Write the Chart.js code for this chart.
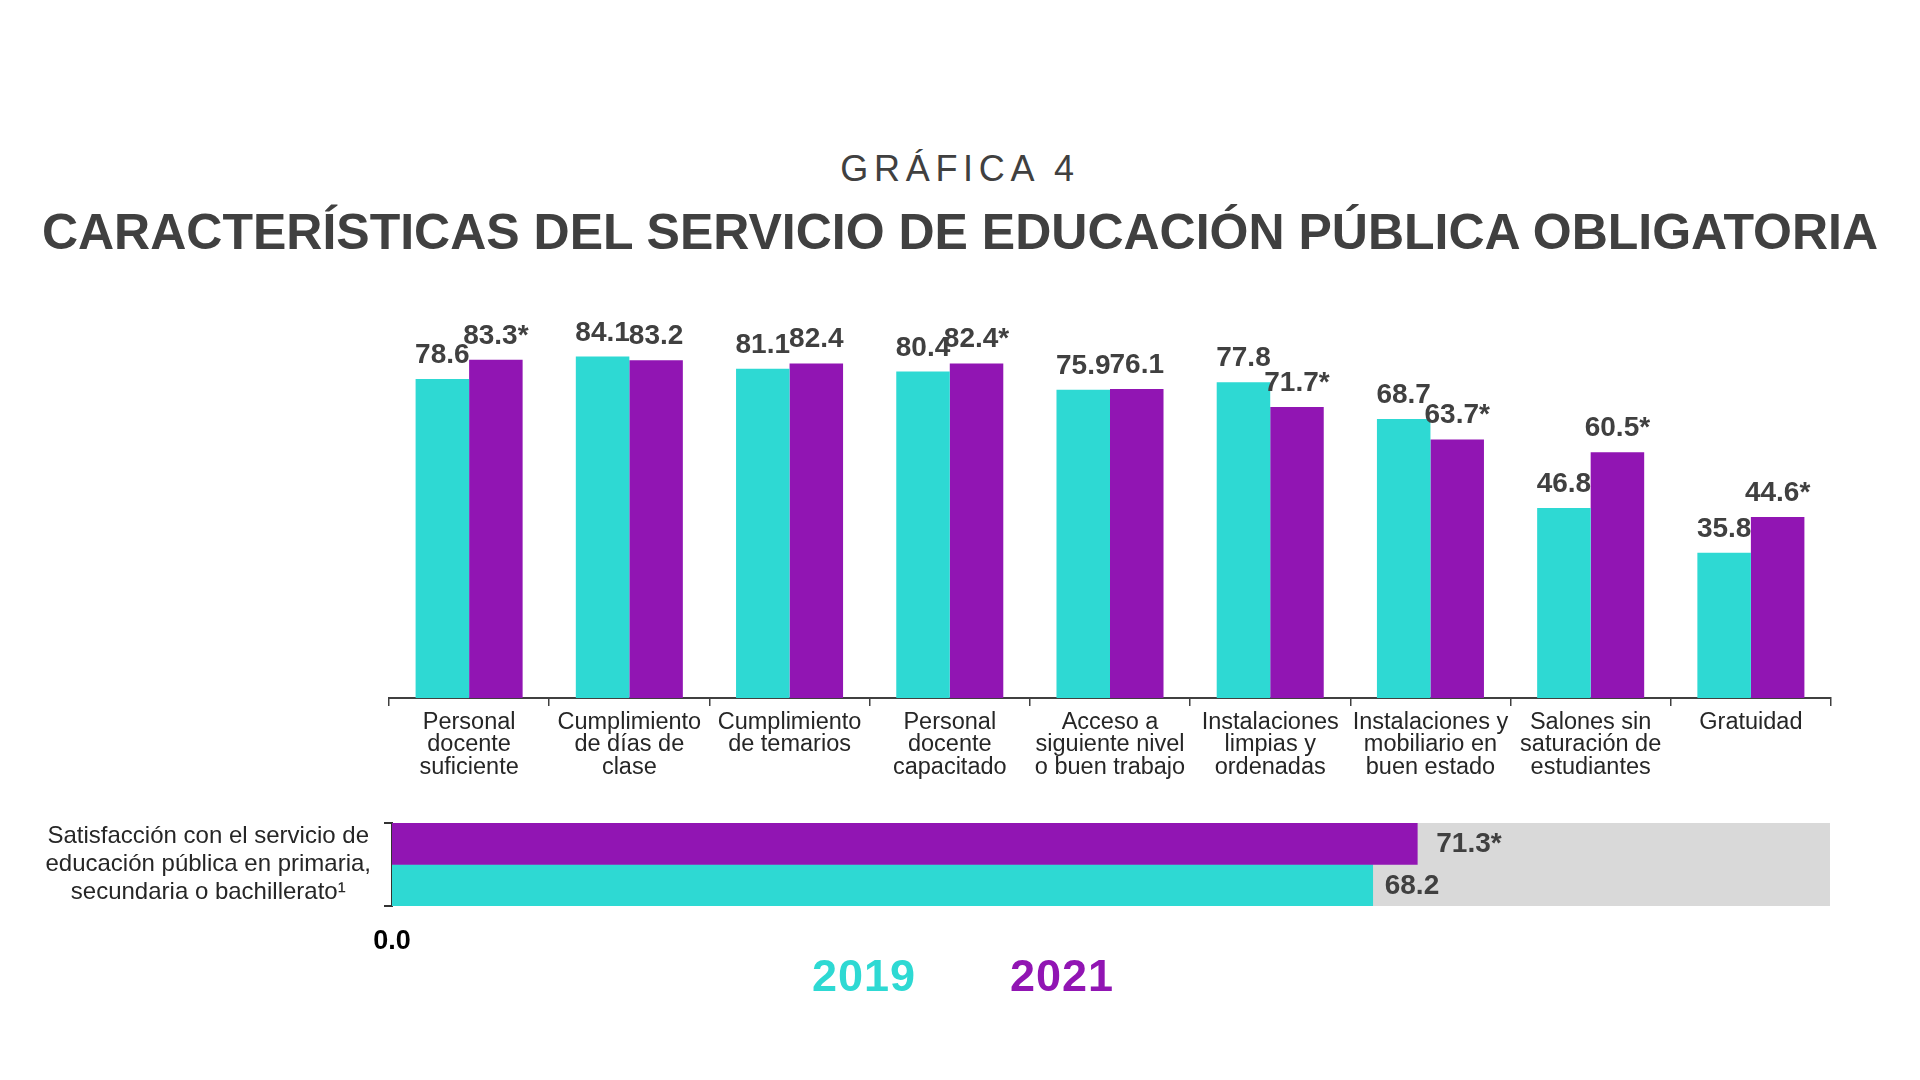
<!DOCTYPE html>
<html lang="es">
<head>
<meta charset="utf-8">
<title>Gráfica 4</title>
<script src="https://cdn.jsdelivr.net/npm/chart.js@4/dist/chart.umd.min.js"></script>
<style>
  html, body { margin: 0; padding: 0; background: #fff; }
  body { width: 1920px; height: 1080px; position: relative; overflow: hidden; font-family: "Liberation Sans", Arial, sans-serif; }
  .txt { position: absolute; white-space: nowrap; line-height: 1; }
  #kicker { left: 0; width: 1920px; text-align: center; top: 151px; font-size: 36px; color: #404040; letter-spacing: 5.7px; }
  #title { left: 0; width: 1920px; text-align: center; top: 207px; font-size: 50px; font-weight: bold; color: #404040; }
  .legend { top: 953px; font-size: 45px; font-weight: bold; transform: translateX(-50%); letter-spacing: 1px; }
  canvas { position: absolute; left: 0; top: 0; }
</style>
</head>
<body>
<div id="kicker" class="txt">GRÁFICA 4</div>
<div id="title" class="txt">CARACTERÍSTICAS DEL SERVICIO DE EDUCACIÓN PÚBLICA OBLIGATORIA</div>
<canvas id="barsChart" width="1920" height="1080"></canvas>
<canvas id="satChart" width="1920" height="1080"></canvas>
<div id="leg2019" class="txt legend" style="left:864px;color:#2ED9D3">2019</div>
<div id="leg2021" class="txt legend" style="left:1062px;color:#9115B3">2021</div>
<script>
const categories = [
  ['Personal', 'docente', 'suficiente'],
  ['Cumplimiento', 'de días de', 'clase'],
  ['Cumplimiento', 'de temarios'],
  ['Personal', 'docente', 'capacitado'],
  ['Acceso a', 'siguiente nivel', 'o buen trabajo'],
  ['Instalaciones', 'limpias y', 'ordenadas'],
  ['Instalaciones y', 'mobiliario en', 'buen estado'],
  ['Salones sin', 'saturación de', 'estudiantes'],
  ['Gratuidad'],
];
const values2019 = [78.6, 84.1, 81.1, 80.4, 75.9, 77.8, 68.7, 46.8, 35.8];
const values2021 = [83.3, 83.2, 82.4, 82.4, 76.1, 71.7, 63.7, 60.5, 44.6];
// asterisk = cambio estadisticamente significativo
const signif2021 = [true, false, false, true, false, true, true, true, true];

const satLabel = ['Satisfacción con el servicio de', 'educación pública en primaria,', 'secundaria o bachillerato¹'];
const sat2019 = [68.2];
const sat2021 = [71.3];
const satSignif2021 = [true];

const CYAN = '#2ED9D3';
const PURPLE = '#9115B3';
const DARK = '#404040';

function fmt(v, sig) {
  return v.toFixed(1) + (sig ? '*' : '');
}

// value labels above the vertical bars
const topLabels = {
  id: 'topLabels',
  afterDatasetsDraw(chart) {
    const ctx = chart.ctx;
    ctx.save();
    ctx.font = 'bold 28px "Liberation Sans", Arial, sans-serif';
    ctx.fillStyle = DARK;
    ctx.textAlign = 'center';
    ctx.textBaseline = 'alphabetic';
    chart.data.datasets.forEach((ds, i) => {
      chart.getDatasetMeta(i).data.forEach((bar, j) => {
        const sig = ds.signif ? ds.signif[j] : false;
        ctx.fillText(fmt(ds.data[j], sig), bar.x, bar.y - 16);
      });
    });
    ctx.restore();
  },
};

// grey track behind the satisfaction bars + labels at bar ends
const satExtras = {
  id: 'satExtras',
  beforeDatasetsDraw(chart) {
    const a = chart.chartArea;
    chart.ctx.save();
    chart.ctx.fillStyle = '#D9D9D9';
    chart.ctx.fillRect(a.left, a.top, a.right - a.left, a.bottom - a.top);
    chart.ctx.restore();
  },
  afterDatasetsDraw(chart) {
    const ctx = chart.ctx;
    ctx.save();
    ctx.font = 'bold 28px "Liberation Sans", Arial, sans-serif';
    ctx.fillStyle = DARK;
    ctx.textAlign = 'left';
    ctx.textBaseline = 'middle';
    chart.data.datasets.forEach((ds, i) => {
      chart.getDatasetMeta(i).data.forEach((bar, j) => {
        const sig = ds.signif ? ds.signif[j] : false;
        ctx.fillText(fmt(ds.data[j], sig), bar.x + ds.labelGap, bar.y + 1);
      });
    });
    ctx.restore();
  },
};

document.addEventListener('DOMContentLoaded', function () {
  Chart.defaults.font.family = '"Liberation Sans", Arial, sans-serif';
  Chart.defaults.animation = false;

  new Chart(document.getElementById('barsChart').getContext('2d'), {
    type: 'bar',
    data: {
      labels: categories,
      datasets: [
        { label: '2019', data: values2019, backgroundColor: CYAN },
        { label: '2021', data: values2021, backgroundColor: PURPLE, signif: signif2021 },
      ],
    },
    options: {
      responsive: false,
      categoryPercentage: 0.668,
      barPercentage: 1,
      layout: { padding: { left: 389, right: 89, top: 292, bottom: 272 } },
      plugins: { legend: { display: false }, tooltip: { enabled: false } },
      scales: {
        y: { display: false, min: 0, max: 100 },
        x: {
          afterFit: (scale) => { scale.height = 110; },
          border: { display: true, color: DARK, width: 2 },
          grid: { display: true, drawOnChartArea: false, offset: true, tickLength: 8, color: DARK, lineWidth: 1.5 },
          ticks: {
            color: '#262626',
            font: { size: 23.5, lineHeight: '22.5px' },
            padding: 5,
            maxRotation: 0,
            autoSkip: false,
          },
        },
      },
    },
    plugins: [topLabels],
  });

  new Chart(document.getElementById('satChart').getContext('2d'), {
    type: 'bar',
    data: {
      labels: [satLabel],
      datasets: [
        { label: '2021', data: sat2021, backgroundColor: PURPLE, signif: satSignif2021, labelGap: 19 },
        { label: '2019', data: sat2019, backgroundColor: CYAN, labelGap: 12 },
      ],
    },
    options: {
      responsive: false,
      indexAxis: 'y',
      categoryPercentage: 1,
      barPercentage: 1,
      layout: { padding: { left: 0, right: 90, top: 823, bottom: 124 } },
      plugins: { legend: { display: false }, tooltip: { enabled: false } },
      scales: {
        x: {
          min: 0,
          max: 100,
          afterFit: (scale) => { scale.height = 50; },
          border: { display: false },
          grid: { display: false },
          ticks: {
            stepSize: 100,
            padding: 11,
            color: '#000',
            font: { size: 27, weight: 'bold' },
            callback: (v) => (v === 0 ? '0.0' : ''),
          },
        },
        y: {
          afterFit: (scale) => { scale.width = 392; },
          border: { display: true, color: '#333', width: 2 },
          grid: { display: true, drawOnChartArea: false, offset: true, tickLength: 8, color: '#333', lineWidth: 2 },
          ticks: {
            crossAlign: 'center',
            padding: 13,
            color: '#262626',
            font: { size: 24, lineHeight: '28px' },
          },
        },
      },
    },
    plugins: [satExtras],
  });
});
</script>
</body>
</html>
